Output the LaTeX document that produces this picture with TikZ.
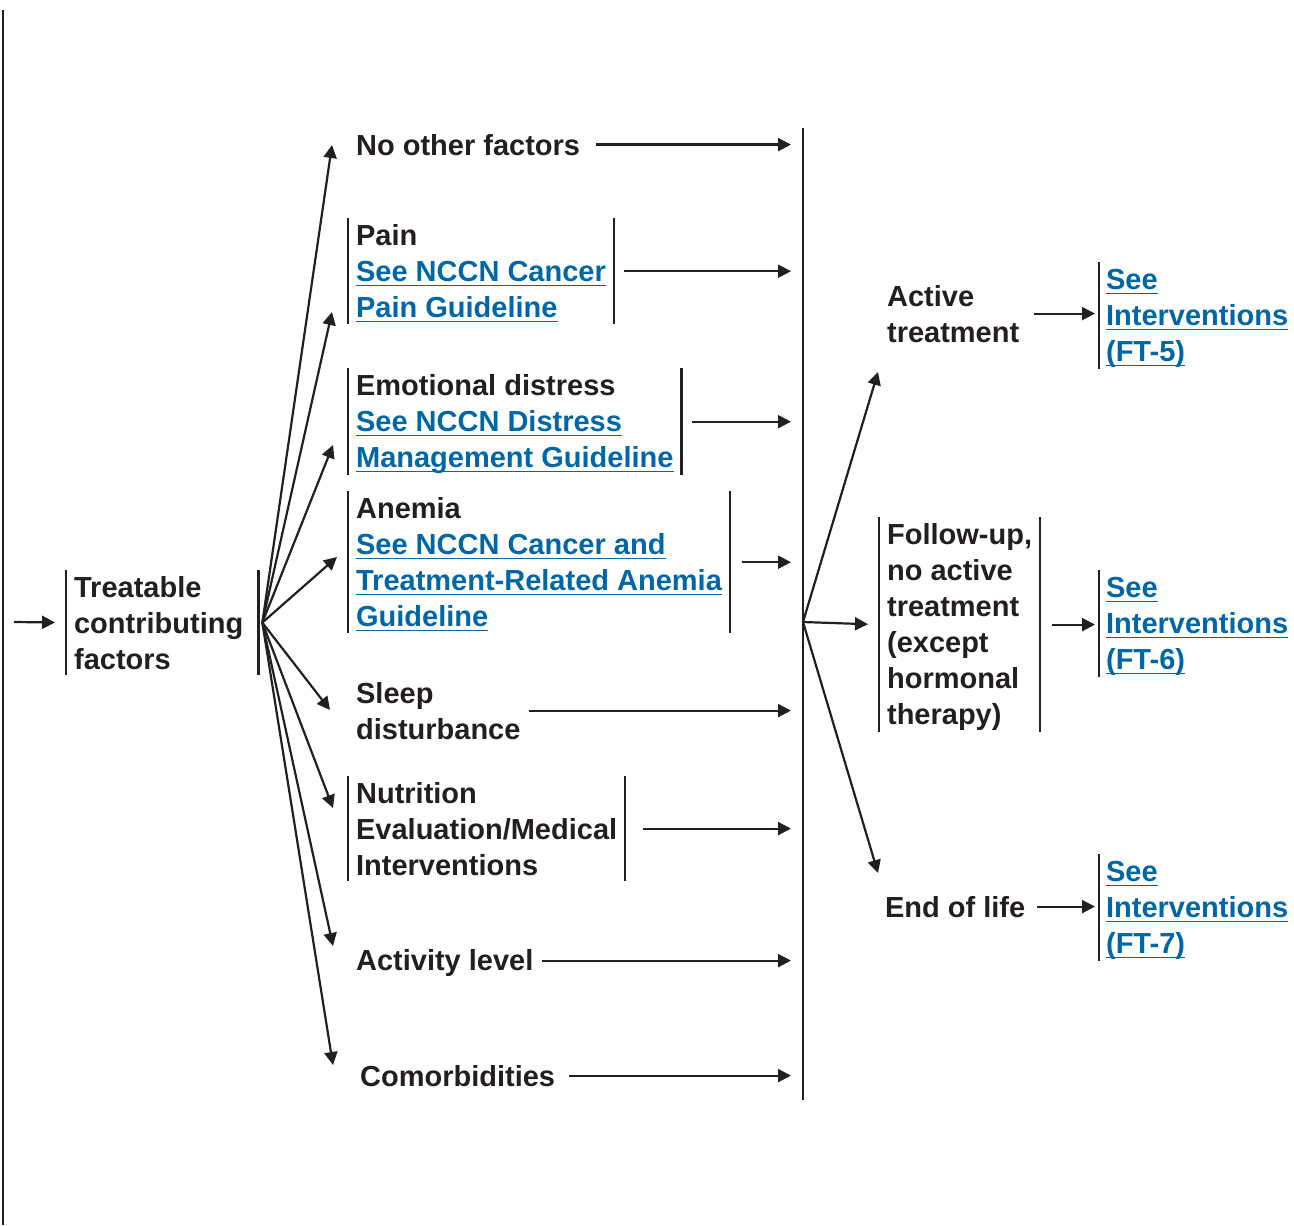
\documentclass[tikz,border=0pt]{standalone}
\usepackage{fontspec}
\setmainfont{Liberation Sans}
\usetikzlibrary{arrows.meta}
\usetikzlibrary{positioning}

\definecolor{nccnblue}{RGB}{0,103,166}
\definecolor{inkblack}{RGB}{35,31,32}
\newcommand{\lnk}[1]{{\color{nccnblue}\setbox0\hbox{#1}\rlap{\rule[-2.6pt]{\wd0}{0.9pt}}\box0}}
\newcommand{\topstrut}{\rule{0pt}{12.5pt}}
\newcommand{\botstrut}{\rule[-2pt]{0pt}{2pt}}

\tikzset{
  txt/.style={anchor=north west, inner xsep=3.5pt, inner ysep=0.5pt, align=left,
    text=inkblack, font=\bfseries\fontsize{14.5}{18}\selectfont,
    execute at end node=\botstrut},
  arr/.style={-{Triangle[length=6.5pt,width=6.5pt]}},
  bar/.style={line width=1.2pt},
}

\begin{document}
\begin{tikzpicture}[x=0.5pt, y=-0.5pt, line width=1.1pt, draw=inkblack]
  \useasboundingbox (0,0) rectangle (1294,1225);
  %draw left margin line
  \draw[bar] (3,10) -- (3,1225);

  %first column
  \coordinate (start) at (14,622);
  \node[txt] (tcf) at (66,570) {\topstrut Treatable\\contributing\\factors};
  \draw[bar] (tcf.north west) -- (tcf.south west);
  \draw[bar] ([xshift=3.5pt]tcf.north east) -- ([xshift=3.5pt]tcf.south east);
  \draw[arr, shorten >=5.5pt] (start) -- (tcf.west);
  \coordinate (fan) at ([xshift=5.5pt]tcf.east);

  %contributing factors
  \node[txt] (nof) at (348,128) {\topstrut No other factors};
  \node[txt] (pain) at (348,218) {\topstrut Pain\\\lnk{See NCCN Cancer}\\\lnk{Pain Guideline}};
  \node[txt] (emo) at (348,368) {\topstrut Emotional distress\\\lnk{See NCCN Distress}\\\lnk{Management Guideline}};
  \node[txt] (anem) at (348,491) {\topstrut Anemia\\\lnk{See NCCN Cancer and}\\\lnk{Treatment-Related Anemia}\\\lnk{Guideline}};
  \node[txt] (sleep) at (348,676) {\topstrut Sleep\\disturbance};
  \node[txt] (nutr) at (348,776) {\topstrut Nutrition\\Evaluation/Medical\\Interventions};
  \node[txt] (act) at (348,943) {\topstrut Activity level};
  \node[txt] (com) at (352,1059) {\topstrut Comorbidities};

  \draw[bar] (pain.north west) -- (pain.south west);
  \draw[bar] (pain.north east) -- (pain.south east);
  \draw[bar] (emo.north west) -- (emo.south west);
  \draw[bar] (emo.north east) -- (emo.south east);
  \draw[bar] (anem.north west) -- (anem.south west);
  \draw[bar] (anem.north east) -- (anem.south east);
  \draw[bar] (nutr.north west) -- (nutr.south west);
  \draw[bar] (nutr.north east) -- (nutr.south east);

  %fan of arrows
  \coordinate (t1) at (332,145);
  \coordinate (t2) at (332,312);
  \coordinate (t3) at (333,445);
  \coordinate (t4) at (337,557);
  \coordinate (t5) at (330,710);
  \coordinate (t6) at (333,808);
  \coordinate (t7) at (333,946);
  \coordinate (t8) at (333,1065);
  \draw[arr] (fan) -- (t1);
  \draw[arr] (fan) -- (t2);
  \draw[arr] (fan) -- (t3);
  \draw[arr] (fan) -- (t4);
  \draw[arr] (fan) -- (t5);
  \draw[arr] (fan) -- (t6);
  \draw[arr] (fan) -- (t7);
  \draw[arr] (fan) -- (t8);

  %main vertical line
  \coordinate (mtop) at (803,128);
  \coordinate (mbot) at (803,1100);
  \coordinate (hub) at (803,622);
  \draw[bar] (mtop) -- (mbot);

  \draw[arr, shorten <=4pt, shorten >=6pt] (nof.east) -- (nof.east -| mtop);
  \draw[arr, shorten <=5pt, shorten >=6pt] (pain.east) -- (pain.east -| mtop);
  \draw[arr, shorten <=5pt, shorten >=6pt] (emo.east) -- (emo.east -| mtop);
  \draw[arr, shorten <=6pt, shorten >=6pt] (anem.east) -- (anem.east -| mtop);
  \draw[arr, shorten >=6pt] (sleep.east) -- (sleep.east -| mtop);
  \draw[arr, shorten <=9pt, shorten >=6pt] (nutr.east) -- (nutr.east -| mtop);
  \draw[arr, shorten >=6pt] (act.east) -- (act.east -| mtop);
  \draw[arr, shorten <=3pt, shorten >=6pt] (com.east) -- (com.east -| mtop);

  %treatment phases
  \node[txt] (actv) at (879,279) {\topstrut Active\\treatment};
  \node[txt] (fu) at (879,517) {\topstrut Follow-up,\\no active\\treatment\\(except\\hormonal\\therapy)};
  \node[txt] (eol) at (877,890) {\topstrut End of life};
  \draw[bar] (fu.north west) -- (fu.south west);
  \draw[bar] (fu.north east) -- (fu.south east);

  \coordinate (r1) at (878,372);
  \coordinate (r3) at (878,873);
  \draw[arr] (hub) -- (r1);
  \draw[arr, shorten >=5.5pt] (hub) -- (fu.west);
  \draw[arr] (hub) -- (r3);

  %interventions
  \node[txt, inner xsep=3pt] (ft5) at (1099,262) {\topstrut\lnk{See}\\\lnk{Interventions}\\\lnk{(FT-5)}};
  \node[txt, inner xsep=3pt] (ft6) at (1099,570) {\topstrut\lnk{See}\\\lnk{Interventions}\\\lnk{(FT-6)}};
  \node[txt, inner xsep=3pt] (ft7) at (1099,854) {\topstrut\lnk{See}\\\lnk{Interventions}\\\lnk{(FT-7)}};
  \draw[bar] (ft5.north west) -- (ft5.south west);
  \draw[bar] (ft6.north west) -- (ft6.south west);
  \draw[bar] (ft7.north west) -- (ft7.south west);

  \draw[arr, shorten <=3.5pt, shorten >=2pt] (actv.east) -- (actv.east -| ft5.west);
  \draw[arr, shorten <=6pt, shorten >=2pt] (fu.east) -- (fu.east -| ft6.west);
  \draw[arr, shorten <=2pt, shorten >=2pt] (eol.east) -- (eol.east -| ft7.west);
\end{tikzpicture}
\end{document}
